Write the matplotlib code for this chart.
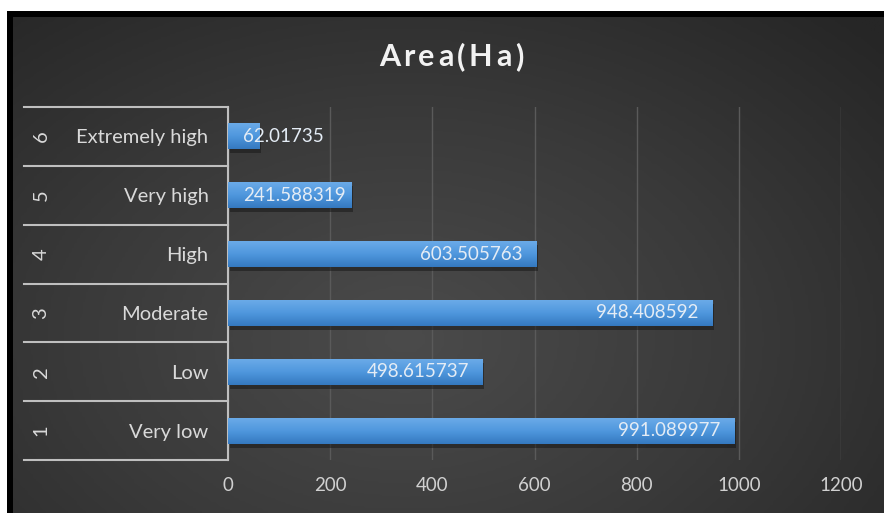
import matplotlib.pyplot as plt
import matplotlib.transforms as mtransforms
from matplotlib.colors import LinearSegmentedColormap
import numpy as np

plt.rcParams['font.family'] = ['Lato', 'DejaVu Sans']

# Data
ranks = ['1', '2', '3', '4', '5', '6']
classes = ['Very low', 'Low', 'Moderate', 'High', 'Very high', 'Extremely high']
area = [991.089977, 498.615737, 948.408592, 603.505763, 241.588319, 62.01735]
value_labels = ['991.089977', '498.615737', '948.408592', '603.505763', '241.588319', '62.01735']
xticks = [0, 200, 400, 600, 800, 1000, 1200]
title = 'Area(Ha)'

W, H = 884, 513
fig = plt.figure(figsize=(W / 100, H / 100), dpi=100, facecolor='white')

# black frame + dark radial background
frame = fig.add_axes([7 / W, 0, 1 - 7 / W, 1 - 11 / H])
frame.set_facecolor('black')
frame.set_xticks([]); frame.set_yticks([])
for s in frame.spines.values():
    s.set_visible(False)

bg = fig.add_axes([13 / W, 0, 1 - 13 / W, 1 - 17 / H])
gx, gy = np.meshgrid(np.linspace(0, 1, 300), np.linspace(0, 1, 200))
r = np.sqrt(((gx - 0.45) / 0.75) ** 2 + ((gy - 0.35) / 0.9) ** 2)
bg_cmap = LinearSegmentedColormap.from_list('bg', ['#4b4b4b', '#3a3a3a', '#262626'])
bg.imshow(np.clip(r, 0, 1), cmap=bg_cmap, aspect='auto', origin='lower',
          extent=[0, 1, 0, 1], vmin=0, vmax=1)
bg.set_axis_off()

ax = fig.add_axes([228 / W, (H - 460) / H, (841 - 228) / W, (460 - 107) / H])
ax.patch.set_visible(False)

y = np.arange(1, len(classes) + 1)
bars = ax.barh(y, area, height=0.44, color='#4a90d9', zorder=3)

# soft shadow and vertical gradient on each bar
bar_cmap = LinearSegmentedColormap.from_list('bar', ['#3579c0', '#4f97dd', '#6aaae8'])
grad = np.linspace(0, 1, 64).reshape(-1, 1)
for b in bars:
    x0, y0, w, h = b.get_x(), b.get_y(), b.get_width(), b.get_height()
    ax.add_patch(plt.Rectangle((x0 + 3, y0 - 0.07), w, h, color='#151515',
                               alpha=0.5, zorder=2, lw=0))
    im = ax.imshow(grad, cmap=bar_cmap, aspect='auto', origin='lower',
                   extent=[x0, x0 + w, y0, y0 + h], zorder=4)
    im.set_clip_path(b)

# value labels: inside end, or inside base for short bars
for yi, v, lab in zip(y, area, value_labels):
    if v > 400:
        ax.text(v - 27, yi, lab, ha='right', va='center', color='#e4ecf5',
                fontsize=13.5, zorder=5)
    else:
        ax.text(29, yi, lab, ha='left', va='center', color='#e4ecf5',
                fontsize=13.5, zorder=5)

ax.set_xlim(0, 1200)
ax.set_ylim(0.5, 6.5)
ax.set_xticks(xticks)
ax.set_xticklabels([str(t) for t in xticks], color='#d0d0d0', fontsize=13.5)
ax.tick_params(axis='x', length=0, pad=12)
ax.grid(axis='x', color='#5a5a5a', lw=1, zorder=1)
ax.set_yticks(y)
ax.set_yticklabels(classes, color='#d9d9d9', fontsize=14.5)
ax.tick_params(axis='y', length=0, pad=14)
for s in ['top', 'right', 'bottom']:
    ax.spines[s].set_visible(False)
ax.spines['left'].set_color('#bfbfbf')
ax.spines['left'].set_linewidth(1.5)

# two-level category axis: separators and rotated rank numbers
trans = mtransforms.blended_transform_factory(ax.transAxes, ax.transData)
x_left = (24 - 228) / (841 - 228)
for yl in np.arange(0.5, 7.0, 1.0):
    ax.plot([x_left, 0], [yl, yl], color='#bfbfbf', lw=1.5, transform=trans,
            clip_on=False, zorder=5)
x_num = (41 - 228) / (841 - 228)
for yi, rk in zip(y, ranks):
    ax.text(x_num, yi, rk, rotation=90, ha='center', va='center',
            color='#d9d9d9', fontsize=14.5, transform=trans)

# letter-spaced bold title
renderer = fig.canvas.get_renderer()
tsize, gap = 22, 3.5
widths = []
for ch in title:
    t = fig.text(0, 0, ch, fontsize=tsize, fontweight='bold')
    widths.append(t.get_window_extent(renderer).width)
    t.remove()
xpos = 451 - (sum(widths) + gap * (len(title) - 1)) / 2
for ch, w in zip(title, widths):
    fig.text(xpos / W, 1 - 57 / H, ch, ha='left', va='center',
             color='#f2f2f2', fontsize=tsize, fontweight='bold')
    xpos += w + gap

fig.savefig('out.png', dpi=100)
